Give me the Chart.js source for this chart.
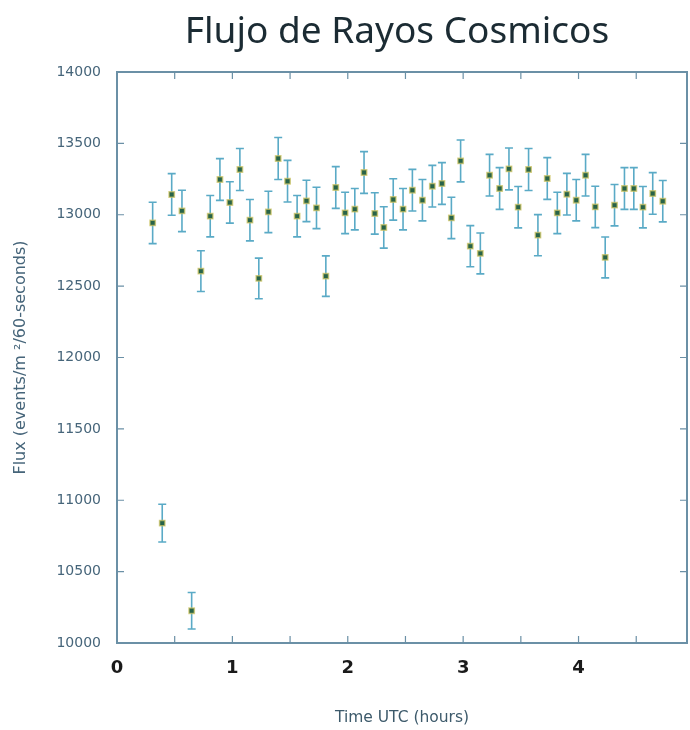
<!DOCTYPE html>
<html>
<head>
<meta charset="utf-8">
<script src="https://cdn.jsdelivr.net/npm/chart.js@4.4.1/dist/chart.umd.min.js"></script>
<style>
  html, body { margin: 0; padding: 0; background: #fff; }
  #wrap { width: 690px; height: 730px; }
</style>
</head>
<body>
<div id="wrap"><canvas id="fluxChart" width="690" height="730"></canvas></div>
<script>
// time UTC (hours) of each measurement
const hours = [
    0.309, 0.392, 0.474, 0.563, 0.647, 0.727, 0.808, 0.892, 0.978, 1.065,
    1.152, 1.229, 1.312, 1.397, 1.478, 1.561, 1.642, 1.729, 1.810, 1.896,
    1.977, 2.061, 2.141, 2.234, 2.312, 2.394, 2.479, 2.560, 2.647, 2.733,
    2.816, 2.898, 2.978, 3.062, 3.149, 3.229, 3.316, 3.397, 3.477, 3.567,
    3.648, 3.729, 3.816, 3.899, 3.980, 4.061, 4.145, 4.231, 4.312, 4.398,
    4.479, 4.558, 4.643, 4.730
];
// flux (events/m^2/60-seconds)
const flux = [
    12943, 10840, 13142, 13027, 10226, 12605, 12990, 13247, 13086, 13317,
    12962, 12554, 13020, 13394, 13235, 12990, 13097, 13048, 12570, 13191,
    13013, 13039, 13296, 13009, 12911, 13107, 13039, 13172, 13102, 13200,
    13219, 12978, 13377, 12780, 12729, 13277, 13184, 13321, 13053, 13317,
    12857, 13254, 13013, 13144, 13102, 13277, 13055, 12701, 13067, 13184,
    13184, 13053, 13149, 13095
];
// half length of each error bar
const fluxErr = [
    145, 132, 146, 145, 128, 143, 145, 146, 145, 147,
    145, 142, 145, 147, 146, 145, 145, 145, 142, 146,
    145, 145, 146, 145, 145, 145, 145, 146, 145, 146,
    146, 145, 147, 144, 143, 146, 146, 147, 145, 147,
    144, 146, 145, 146, 145, 146, 145, 143, 145, 146,
    146, 145, 146, 145
];
const xTickLabels = [0, 1, 2, 3, 4];

const points = hours.map((h, i) => ({ x: h, y: flux[i], err: fluxErr[i] }));

// vertical error bars, drawn behind the markers
const errorBars = {
    id: 'errorBars',
    beforeDatasetsDraw(chart) {
        const ctx = chart.ctx;
        const xs = chart.scales.x, ys = chart.scales.y;
        ctx.save();
        ctx.strokeStyle = '#5aaac6';
        ctx.lineWidth = 1.6;
        points.forEach(p => {
            const px = xs.getPixelForValue(p.x);
            const top = ys.getPixelForValue(p.y + p.err);
            const bot = ys.getPixelForValue(p.y - p.err);
            ctx.beginPath();
            ctx.moveTo(px, top); ctx.lineTo(px, bot);
            ctx.moveTo(px - 4, top); ctx.lineTo(px + 4, top);
            ctx.moveTo(px - 4, bot); ctx.lineTo(px + 4, bot);
            ctx.stroke();
        });
        ctx.restore();
    }
};

// gnuplot-like frame with inward ticks, plus the title
const frame = {
    id: 'frame',
    afterDraw(chart) {
        const ctx = chart.ctx;
        const a = chart.chartArea;
        const xs = chart.scales.x, ys = chart.scales.y;
        ctx.save();
        ctx.strokeStyle = '#6b90a6';
        ctx.lineWidth = 2;
        ctx.strokeRect(a.left, a.top, a.right - a.left, a.bottom - a.top);
        ctx.lineWidth = 1.2;
        ctx.beginPath();
        for (let v = 0.5; v < xs.max; v += 0.5) {
            const px = xs.getPixelForValue(v);
            ctx.moveTo(px, a.bottom); ctx.lineTo(px, a.bottom - 7);
            ctx.moveTo(px, a.top); ctx.lineTo(px, a.top + 7);
        }
        for (let v = 10500; v < 14000; v += 500) {
            const py = ys.getPixelForValue(v);
            ctx.moveTo(a.left, py); ctx.lineTo(a.left + 7, py);
            ctx.moveTo(a.right, py); ctx.lineTo(a.right - 7, py);
        }
        ctx.stroke();

        ctx.fillStyle = '#1b2b33';
        ctx.font = '37px "Noto Sans"';
        ctx.textAlign = 'center';
        ctx.textBaseline = 'middle';
        ctx.fillText('Flujo de Rayos Cosmicos', (a.left + a.right) / 2 - 5, 32);
        ctx.restore();
    }
};

const ctx = document.getElementById('fluxChart');
new Chart(ctx, {
    type: 'scatter',
    data: {
        datasets: [{
            label: 'Flux',
            data: points,
            pointStyle: 'rect',
            pointRadius: 3.8,
            backgroundColor: '#276349',
            borderColor: 'rgba(205,195,95,0.7)',
            borderWidth: 1.5
        }]
    },
    options: {
        responsive: false,
        animation: false,
        layout: { autoPadding: false, padding: { top: 72, right: 3, left: 0, bottom: 0 } },
        plugins: {
            legend: { display: false },
            tooltip: { enabled: false },
            title: { display: false }
        },
        scales: {
            x: {
                type: 'linear',
                min: 0,
                max: 4.94,
                afterBuildTicks: scale => {
                    scale.ticks = xTickLabels.map(v => ({ value: v }));
                },
                afterFit: scale => {
                    scale.height = 87;
                    scale.paddingLeft = 0;
                    scale.paddingRight = 0;
                },
                grid: { display: false, drawTicks: false },
                border: { display: false },
                ticks: {
                    padding: 15,
                    color: '#1a1a1a',
                    font: { family: '"DejaVu Sans"', size: 18, weight: 'bold' },
                    callback: v => String(v)
                },
                title: {
                    display: true,
                    text: 'Time UTC (hours)',
                    color: '#3d5a6b',
                    font: { family: '"DejaVu Sans"', size: 15.5 },
                    padding: { top: 0, bottom: 3 }
                }
            },
            y: {
                min: 10000,
                max: 14000,
                afterFit: scale => { scale.width = 117; },
                grid: { display: false, drawTicks: false },
                border: { display: false },
                ticks: {
                    stepSize: 500,
                    padding: 16,
                    color: '#46657a',
                    font: { family: '"DejaVu Sans"', size: 14 },
                    callback: v => String(v)
                },
                title: {
                    display: true,
                    text: 'Flux (events/m ²/60-seconds)',
                    color: '#46657a',
                    font: { family: '"DejaVu Sans"', size: 16 },
                    padding: { top: 11, bottom: 0 }
                }
            }
        }
    },
    plugins: [errorBars, frame]
});
</script>
</body>
</html>
